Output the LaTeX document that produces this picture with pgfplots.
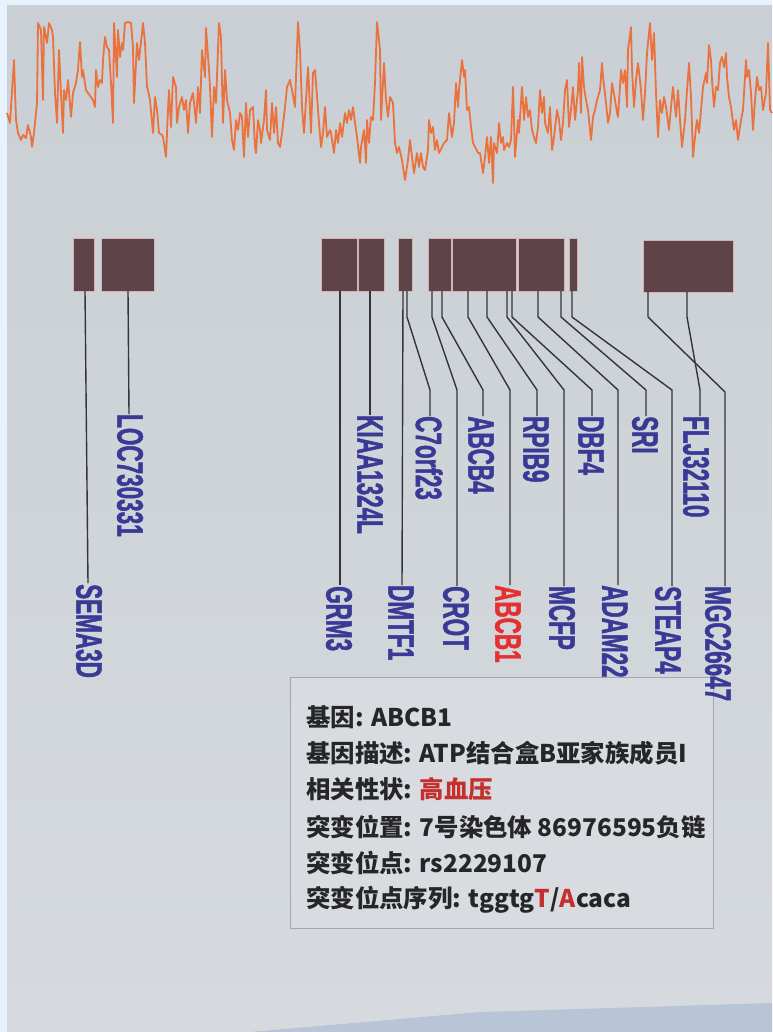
\documentclass[border=0pt]{standalone}
\usepackage{pgfplots}
\pgfplotsset{compat=1.18}
\usepackage{fontspec}
\setmainfont{Liberation Sans}
\newfontfamily\genefont[FakeStretch=0.61, FakeBold=1.2]{Liberation Sans}
\newfontfamily\cjk{Noto Sans CJK SC}
\definecolor{outerbg}{RGB}{232,242,254}
\definecolor{paneltop}{RGB}{201,207,212}
\definecolor{panelbot}{RGB}{214,218,222}
\definecolor{wedge}{RGB}{176,192,214}
\definecolor{signal}{RGB}{234,114,62}
\definecolor{blk}{RGB}{94,68,72}
\definecolor{blkedge}{RGB}{214,178,178}
\definecolor{conn}{RGB}{52,52,62}
\definecolor{geneblue}{RGB}{58,58,150}
\definecolor{genered}{RGB}{228,48,48}
\definecolor{boxfill}{RGB}{216,220,224}
\definecolor{boxedge}{RGB}{160,166,178}
\definecolor{boxtext}{RGB}{38,38,40}
\definecolor{boxred}{RGB}{196,48,48}
\tikzset{
  glab/.style={rotate=-90, anchor=west, inner sep=0pt,
    font=\genefont\bfseries\fontsize{37}{40}\selectfont, text=geneblue},
  blockstyle/.style={fill=blk, draw=blkedge, line width=0.9pt},
  connstyle/.style={draw=conn, line width=1.4pt},
  boxline/.style={anchor=west, inner sep=0pt,
    font=\cjk\bfseries\fontsize{24.5}{28}\selectfont, text=boxtext},
}
\begin{document}
\begin{tikzpicture}
\begin{axis}[
  width=772bp, height=1032bp, scale only axis,
  xmin=0, xmax=772, ymin=0, ymax=1032, y dir=reverse,
  hide axis, clip=false,
]
% backgrounds
\addplot[draw=none, fill=outerbg, mark=none] coordinates {(0,0)(772,0)(772,1032)(0,1032)} --cycle;
\addplot[draw=none, top color=paneltop, bottom color=panelbot, mark=none] coordinates {(7,5)(772,5)(772,1032)(7,1032)} --cycle;
\addplot[draw=none, fill=wedge, opacity=0.8, mark=none] coordinates {(250,1032)(480,1012)(772,1003)(772,1032)} --cycle;

% info box (drawn before the labels, which lie over it)
\addplot[fill=boxfill, draw=boxedge, line width=1pt, mark=none] coordinates {(290,677)(713,677)(713,928)(290,928)} --cycle;

% signal trace
\addplot[signal, line width=1.8pt, mark=none, line join=round] coordinates {
(7,113)(10,123)(14,60)(16,120)(18,133)(21,140)(23,135)(26,138)(28,125)(31,137)(32,147)(34,133)(37,103)(38,23)(41,30)(43,100)(44,27)(47,43)(49,23)(52,30)(53,37)(55,93)(57,123)(59,50)(61,93)(63,133)(64,90)(66,100)(68,80)(71,117)(73,93)(76,83)(78,70)(80,42)(82,77)(83,70)(86,90)(88,93)(91,97)(93,100)(95,107)(96,70)(98,87)(100,80)(102,83)(103,60)(105,37)(107,47)(109,50)(111,83)(113,123)(114,23)(117,77)(118,30)(120,57)(122,43)(123,50)(125,23)(128,22)(131,23)(133,47)(134,103)(137,43)(139,60)(142,33)(143,23)(145,43)(147,87)(148,90)(150,100)(153,133)(155,97)(157,110)(159,133)(162,135)(163,137)(166,157)(168,110)(169,90)(171,127)(173,77)(176,87)(177,123)(179,107)(182,97)(184,110)(186,100)(188,133)(190,103)(193,93)
(196,123)(198,87)(200,113)(202,50)(205,77)(206,28)(209,70)(210,87)(212,137)(214,87)(216,103)(219,23)(221,37)(223,123)(225,70)(227,100)(230,113)(232,140)(234,150)(236,120)(238,130)(240,113)(242,117)(244,157)(246,103)(248,137)(250,110)(253,107)(255,147)(256,153)(258,120)(260,130)(261,143)(264,120)(266,90)(267,130)(270,140)(272,103)(274,133)(276,107)(278,143)(280,147)(282,133)(285,107)(287,87)(290,80)(292,90)(295,107)(296,77)(298,22)(300,50)(302,107)(304,133)(306,100)(308,67)(310,110)(311,133)(313,73)(315,70)(316,83)(319,123)(321,147)(323,133)(325,107)(327,137)(330,130)(331,133)(334,153)(336,130)(338,143)(340,123)(342,137)(345,113)(347,123)(349,110)(351,120)(353,107)(355,123)(357,137)(360,163)(361,147)(364,130)(366,163)(367,120)(369,143)(371,117)(373,120)(375,83)(377,22)(380,50)(381,120)(384,63)(386,100)(388,117)
(390,97)(393,103)(395,143)(397,153)(399,147)(402,160)(403,167)(405,180)(408,160)(410,140)(412,157)(414,173)(417,153)(419,167)(421,153)(423,167)(425,170)(428,150)(429,120)(431,133)(433,127)(435,150)(437,140)(439,153)(442,147)(444,143)(447,140)(449,113)(452,137)(454,123)(456,83)(458,107)(459,90)(462,60)(464,77)(465,70)(467,110)(469,107)(471,127)(473,143)(475,147)(478,153)(480,153)(483,173)(485,157)(487,137)(489,163)(491,137)(493,183)(494,143)(497,153)(499,123)(501,143)(503,137)(504,150)(507,143)(509,147)(511,140)(513,87)(515,157)(518,120)(519,133)(522,87)(524,120)(526,97)(528,117)(530,110)(532,130)(534,137)(536,143)(538,127)(540,90)(542,113)(544,97)(545,123)(548,133)(550,107)(552,150)(554,137)(557,110)(559,120)(561,140)(563,123)(565,90)(567,80)(569,127)(571,110)(573,87)(575,120)(578,90)(579,63)
(581,113)(582,57)(584,87)(586,100)(588,110)(591,140)(593,117)(595,110)(597,100)(600,90)(602,63)(603,77)(606,103)(608,123)(610,113)(612,83)(615,100)(617,113)(618,117)(621,70)(623,83)(625,70)(627,107)(628,50)(631,27)(632,70)(634,107)(636,80)(638,63)(641,90)(643,120)(645,93)(647,53)(650,23)(652,60)(654,33)(656,93)(658,137)(660,100)(662,113)(664,97)(666,107)(669,130)(671,107)(673,87)(676,117)(678,90)(680,120)(682,147)(685,120)(687,90)(689,63)(691,97)(693,157)(696,127)(697,120)(699,133)(701,110)(703,87)(706,73)(707,83)(709,45)(711,60)(712,80)(714,107)(716,87)(718,90)(720,63)(722,57)(724,67)(726,53)(727,77)(729,97)(731,107)(734,130)(736,120)(738,140)(741,120)(743,110)(746,60)(747,77)(749,70)(751,93)(753,130)(755,100)(757,77)(759,90)(761,87)(763,110)(766,93)(768,43)(770,110)(772,113)
};

% gene blocks
\addplot[blockstyle, mark=none] coordinates {(73,238)(94,238)(94,291)(73,291)} --cycle;
\addplot[blockstyle, mark=none] coordinates {(101,238)(154,238)(154,291)(101,291)} --cycle;
\addplot[blockstyle, mark=none] coordinates {(321,238)(357,238)(357,291)(321,291)} --cycle;
\addplot[blockstyle, mark=none] coordinates {(358,238)(384,238)(384,291)(358,291)} --cycle;
\addplot[blockstyle, mark=none] coordinates {(398,238)(412,238)(412,291)(398,291)} --cycle;
\addplot[blockstyle, mark=none] coordinates {(428,238)(451,238)(451,291)(428,291)} --cycle;
\addplot[blockstyle, mark=none] coordinates {(452,238)(516,238)(516,291)(452,291)} --cycle;
\addplot[blockstyle, mark=none] coordinates {(518,238)(564,238)(564,291)(518,291)} --cycle;
\addplot[blockstyle, mark=none] coordinates {(569,238)(577,238)(577,291)(569,291)} --cycle;
\addplot[blockstyle, mark=none] coordinates {(643,240)(733,240)(733,292)(643,292)} --cycle;

% connectors
\addplot[connstyle, mark=none] coordinates {(85,291)(88,583)};
\addplot[connstyle, mark=none] coordinates {(128,291)(129,414)};
\addplot[connstyle, mark=none] coordinates {(340,291)(340,585)};
\addplot[connstyle, mark=none] coordinates {(370,291)(370,415)};
\addplot[connstyle, mark=none] coordinates {(403,291)(402,585)};
\addplot[connstyle, mark=none] coordinates {(407,291)(407,317)(430,390)(430,416)};
\addplot[connstyle, mark=none] coordinates {(432,291)(432,317)(457,390)(457,586)};
\addplot[connstyle, mark=none] coordinates {(442,291)(442,317)(483,390)(483,416)};
\addplot[connstyle, mark=none] coordinates {(468,291)(468,317)(510,390)(510,585)};
\addplot[connstyle, mark=none] coordinates {(487,291)(487,317)(537,390)(537,416)};
\addplot[connstyle, mark=none] coordinates {(507,291)(507,317)(564,390)(564,586)};
\addplot[connstyle, mark=none] coordinates {(512,291)(512,317)(592,390)(592,416)};
\addplot[connstyle, mark=none] coordinates {(538,291)(538,317)(618,390)(618,585)};
\addplot[connstyle, mark=none] coordinates {(561,291)(561,317)(646,390)(646,416)};
\addplot[connstyle, mark=none] coordinates {(572,291)(572,317)(672,390)(672,586)};
\addplot[connstyle, mark=none] coordinates {(648,292)(648,317)(725,392)(725,586)};
\addplot[connstyle, mark=none] coordinates {(687,292)(687,317)(700,390)(700,416)};

% gene labels
\node[glab] at (axis cs:89,584) {SEMA3D};
\node[glab] at (axis cs:130,414) {LOC730331};
\node[glab] at (axis cs:339,586) {GRM3};
\node[glab] at (axis cs:370,415) {KIAA1324L};
\node[glab] at (axis cs:401,585) {DMTF1};
\node[glab] at (axis cs:429,416) {C7orf23};
\node[glab] at (axis cs:456,586) {CROT};
\node[glab] at (axis cs:481,416) {ABCB4};
\node[glab, text=genered] at (axis cs:508,585) {ABCB1};
\node[glab] at (axis cs:536,416) {RPIB9};
\node[glab] at (axis cs:562,586) {MCFP};
\node[glab] at (axis cs:591,416) {DBF4};
\node[glab] at (axis cs:615,585) {ADAM22};
\node[glab] at (axis cs:645,416) {SRI};
\node[glab] at (axis cs:668,586) {STEAP4};
\node[glab] at (axis cs:696,416) {FLJ32110};
\node[glab] at (axis cs:718,586) {MGC26647};

% info box text
\node[boxline] at (axis cs:306,717) {基因: ABCB1};
\node[boxline] at (axis cs:306,753) {基因描述: ATP结合盒B亚家族成员I};
\node[boxline] at (axis cs:306,789) {相关性状: \textcolor{boxred}{高血压}};
\node[boxline] at (axis cs:306,827) {突变位置: 7号染色体 86976595负链};
\node[boxline] at (axis cs:306,863) {突变位点: rs2229107};
\node[boxline] at (axis cs:306,900) {突变位点序列: tggtg\textcolor{boxred}{T}/\textcolor{boxred}{A}caca};
\end{axis}
\end{tikzpicture}
\end{document}
